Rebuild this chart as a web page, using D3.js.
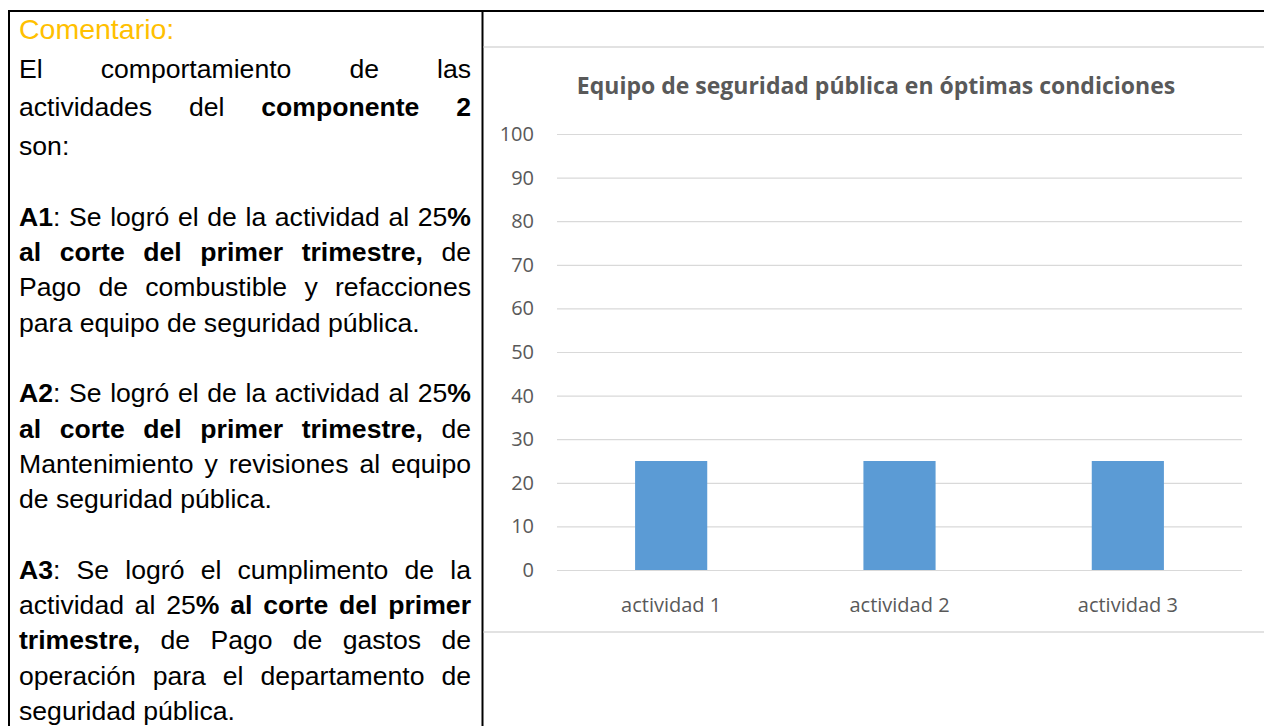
<!DOCTYPE html>
<html>
<head>
<meta charset="utf-8">
<script src="https://cdn.jsdelivr.net/npm/d3@7"></script>
<style>
  body { margin: 0; background: #fff; }
  svg { display: block; }
</style>
</head>
<body>
<div class="chart"></div>
<script>
// data
var categories = ["actividad 1", "actividad 2", "actividad 3"];
var values = [25, 25, 25];
var yTicks = [0, 10, 20, 30, 40, 50, 60, 70, 80, 90, 100];
var chartTitle = "Equipo de seguridad pública en óptimas condiciones";

// comment text, one entry per line (null = blank line), runs marked bold with b
var commentHead = "Comentario:";
var commentLines = [
  {j: true,  r: [{t: "El comportamiento de las"}]},
  {j: true,  r: [{t: "actividades del "}, {t: "componente 2", b: true}]},
  {j: false, r: [{t: "son:"}]},
  null,
  {j: true,  r: [{t: "A1", b: true}, {t: ": Se logró el de la actividad al 25"}, {t: "%", b: true}]},
  {j: true,  r: [{t: "al corte del primer trimestre,", b: true}, {t: " de"}]},
  {j: true,  r: [{t: "Pago de combustible y refacciones"}]},
  {j: false, r: [{t: "para equipo de seguridad pública."}]},
  null,
  {j: true,  r: [{t: "A2", b: true}, {t: ": Se logró el de la actividad al 25"}, {t: "%", b: true}]},
  {j: true,  r: [{t: "al corte del primer trimestre,", b: true}, {t: " de"}]},
  {j: true,  r: [{t: "Mantenimiento y revisiones al equipo"}]},
  {j: false, r: [{t: "de seguridad pública."}]},
  null,
  {j: true,  r: [{t: "A3", b: true}, {t: ": Se logró el cumplimento de la"}]},
  {j: true,  r: [{t: "actividad al 25"}, {t: "% al corte del primer", b: true}]},
  {j: true,  r: [{t: "trimestre,", b: true}, {t: " de Pago de gastos de"}]},
  {j: true,  r: [{t: "operación para el departamento de"}]},
  {j: false, r: [{t: "seguridad pública."}]}
];

var svgWidth = 1264;
var svgHeight = 726;

var svg = d3.select(".chart")
  .append("svg")
  .attr("width", svgWidth)
  .attr("height", svgHeight);

// table borders
var colSplit = 482.5;
svg.append("line").attr("x1", 8).attr("x2", svgWidth).attr("y1", 11).attr("y2", 11)
  .attr("stroke", "#000").attr("stroke-width", 2);
svg.append("line").attr("x1", 9).attr("x2", 9).attr("y1", 10).attr("y2", svgHeight)
  .attr("stroke", "#000").attr("stroke-width", 2);
svg.append("line").attr("x1", colSplit).attr("x2", colSplit).attr("y1", 10).attr("y2", svgHeight)
  .attr("stroke", "#000").attr("stroke-width", 2);

// ---- left column text ----
var textX = 19, textW = 452;
var bodyFont = "'Liberation Sans', Arial, sans-serif";
var bodySize = 26.6;

var txt = svg.append("g").attr("font-family", bodyFont).attr("font-size", bodySize).attr("fill", "#000");

txt.append("text")
  .attr("x", textX).attr("y", 39)
  .attr("font-size", 28.5)
  .attr("fill", "#FFC000")
  .text(commentHead);

var probe = txt.append("text").attr("x", -1000).attr("y", -1000);
function measure(s, bold) {
  probe.attr("font-weight", bold ? "bold" : "normal").text(s);
  return probe.node().getComputedTextLength();
}
var spaceNat = measure("a a", false) - measure("aa", false);

function lineY(i) {
  // first paragraph sits a little looser than the rest
  if (i < 3) return 77.7 + i * 38.7;
  return 155.1 + (i - 2) * 35.3;
}

commentLines.forEach(function(line, i) {
  if (!line) return;
  var tokens = [];
  line.r.forEach(function(run) {
    run.t.split(/( )/).forEach(function(p) {
      if (p === "") return;
      if (p === " ") tokens.push({space: true});
      else tokens.push({t: p, b: !!run.b, w: measure(p, !!run.b)});
    });
  });
  var nSp = tokens.filter(function(d) { return d.space; }).length;
  var sum = d3.sum(tokens, function(d) { return d.space ? 0 : d.w; });
  var sp = line.j && nSp > 0 ? (textW - sum) / nSp : spaceNat;
  var t = txt.append("text").attr("y", lineY(i));
  var x = textX;
  tokens.forEach(function(d) {
    if (d.space) { x += sp; return; }
    t.append("tspan").attr("x", x).attr("font-weight", d.b ? "bold" : "normal").text(d.t);
    x += d.w;
  });
});
probe.remove();

// ---- chart ----
var chartFont = "'Open Sans', sans-serif";
var frameColor = "#d9d9d9";

svg.append("line").attr("x1", colSplit + 1).attr("x2", svgWidth).attr("y1", 47).attr("y2", 47)
  .attr("stroke", frameColor).attr("stroke-width", 1.6);
svg.append("line").attr("x1", colSplit + 1).attr("x2", svgWidth).attr("y1", 632).attr("y2", 632)
  .attr("stroke", frameColor).attr("stroke-width", 1.6);

var plot = {left: 557, right: 1242, top: 134, bottom: 570};

svg.append("text")
  .attr("x", 876).attr("y", 94)
  .attr("text-anchor", "middle")
  .attr("font-family", chartFont)
  .attr("font-weight", "bold")
  .attr("font-size", 23)
  .attr("fill", "#595959")
  .text(chartTitle);

var yScale = d3.scaleLinear().domain([0, 100]).range([plot.bottom, plot.top]);
var xScale = d3.scaleBand().domain(categories).range([plot.left, plot.right])
  .paddingInner(0.684).paddingOuter(0.342);

var leftAxis = d3.axisLeft(yScale)
  .tickValues(yTicks)
  .tickSize(-(plot.right - plot.left))
  .tickPadding(23);

var yAxisG = svg.append("g")
  .attr("transform", "translate(" + plot.left + ",0)")
  .call(leftAxis);
yAxisG.select(".domain").remove();
yAxisG.selectAll(".tick line").attr("stroke", frameColor).attr("stroke-width", 1.2);
yAxisG.selectAll(".tick text")
  .attr("font-family", chartFont).attr("font-size", 20).attr("fill", "#595959");

svg.append("g").selectAll("rect")
  .data(values)
  .enter().append("rect")
  .attr("x", function(d, i) { return xScale(categories[i]); })
  .attr("y", function(d) { return yScale(d); })
  .attr("width", xScale.bandwidth())
  .attr("height", function(d) { return yScale(0) - yScale(d); })
  .attr("fill", "#5B9BD5");

var bottomAxis = d3.axisBottom(xScale).tickSize(0).tickPadding(28);
var xAxisG = svg.append("g")
  .attr("transform", "translate(0," + plot.bottom + ")")
  .call(bottomAxis);
xAxisG.select(".domain").remove();
xAxisG.selectAll(".tick text")
  .attr("font-family", chartFont).attr("font-size", 20).attr("fill", "#595959");
</script>
</body>
</html>
